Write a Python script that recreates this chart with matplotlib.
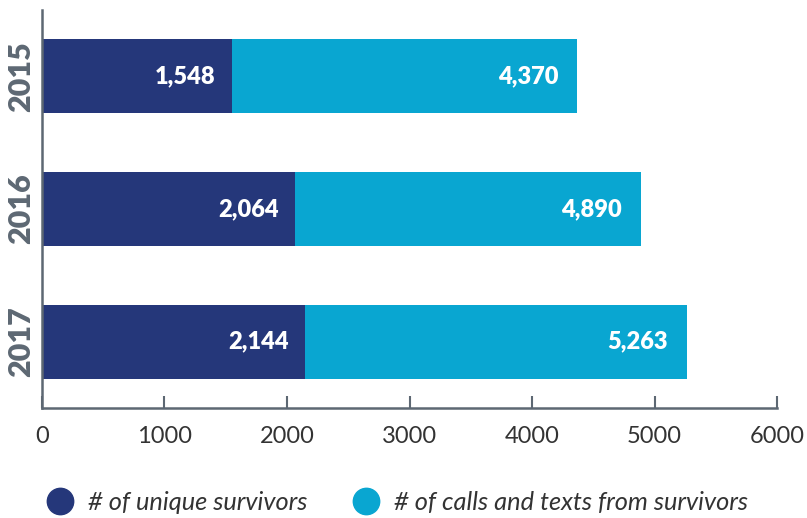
import matplotlib.pyplot as plt
from matplotlib.lines import Line2D

years = ["2015", "2016", "2017"]
survivors = [1548, 2064, 2144]
calls_texts = [4370, 4890, 5263]
xticks = [0, 1000, 2000, 3000, 4000, 5000, 6000]

navy = "#25377a"
cyan = "#09a6d1"
grey = "#5d6873"

fig = plt.figure(figsize=(8.07, 5.18), dpi=100)
ax = fig.add_axes([0.052, 0.2124, 0.911, 0.7683])

pos = list(range(len(years)))
ax.barh(pos, calls_texts, height=0.56, color=cyan)
ax.barh(pos, survivors, height=0.56, color=navy)

px = 6000 / (0.911 * 807)  # data units per pixel
for i in pos:
    ax.text(survivors[i] - 16 * px, i, f"{survivors[i]:,}", ha="right", va="center",
            color="white", fontsize=17, fontweight="heavy", family="Lato")
    ax.text(calls_texts[i] - 19 * px, i, f"{calls_texts[i]:,}", ha="right", va="center",
            color="white", fontsize=17, fontweight="heavy", family="Lato")

ax.set_xlim(0, 6000)
ax.set_ylim(2.5, -0.5)
ax.set_xticks(xticks)
ax.set_xticklabels([str(t) for t in xticks], fontsize=17, color="#333333", family="Lato")
ax.set_yticks(pos)
ax.set_yticklabels(years, rotation=90, va="center", fontsize=22, fontweight="heavy",
                   color=grey, family="Lato")
ax.tick_params(axis="y", length=0, pad=5)
ax.tick_params(axis="x", direction="in", length=9, width=1.5, color=grey, pad=13)

for s in ["top", "right"]:
    ax.spines[s].set_visible(False)
for s in ["left", "bottom"]:
    ax.spines[s].set_color(grey)
    ax.spines[s].set_linewidth(1.8)

handles = [
    Line2D([], [], marker="o", linestyle="", markersize=19, color=navy),
    Line2D([], [], marker="o", linestyle="", markersize=19, color=cyan),
]
fig.legend(handles, ["# of unique survivors", "# of calls and texts from survivors"],
           loc="center left", bbox_to_anchor=(0.027, 0.03), ncol=2, frameon=False,
           handletextpad=0.5, columnspacing=1.7, handlelength=1.2,
           prop={"family": "Lato", "style": "italic", "size": 18.3})
for t in fig.legends[0].get_texts():
    t.set_color("#333333")

fig.savefig("out.png", dpi=100)
